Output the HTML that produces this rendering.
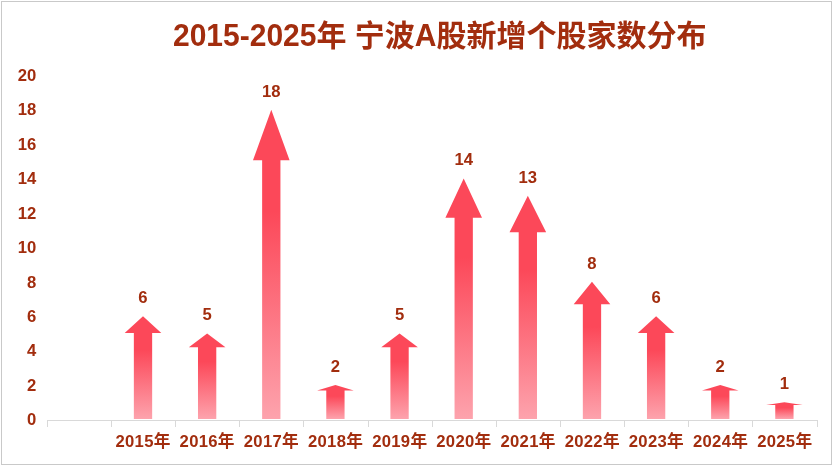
<!DOCTYPE html>
<html lang="zh"><head><meta charset="utf-8"><title>2015-2025年 宁波A股新增个股家数分布</title>
<style>
html,body{margin:0;padding:0;background:#fff;}
body{width:832px;height:465px;overflow:hidden;position:relative;}
#frame{position:absolute;left:1px;top:1px;width:831px;height:464px;box-sizing:border-box;border:1px solid #c9c9c9;}
svg{position:absolute;left:0;top:0;}
.t,.l{position:absolute;white-space:nowrap;font-family:"Liberation Sans","Noto Sans CJK SC",sans-serif;font-weight:bold;color:#A22D0E;}
.t{font-size:30px;line-height:40px;height:40px;}
.l{font-size:16.67px;line-height:20px;height:20px;width:80px;text-align:center;}
.y{text-align:right;}
.c{letter-spacing:0.3px;}
.s{display:inline-block;transform:scaleY(1.07);transform-origin:50% 30.4px;}
</style></head><body>
<div id="frame"></div>
<svg width="832" height="465" viewBox="0 0 832 465">
<defs><linearGradient id="g" x1="0" y1="0" x2="0" y2="1"><stop offset="0" stop-color="#FC4859"/><stop offset="0.33" stop-color="#FC4859"/><stop offset="1" stop-color="#FDA3AD"/></linearGradient></defs>
<g fill="#d9d9d9" shape-rendering="crispEdges"><rect x="47" y="420" width="771" height="1"/><rect x="47" y="420" width="1" height="7"/><rect x="111" y="420" width="1" height="7"/><rect x="175" y="420" width="1" height="7"/><rect x="239" y="420" width="1" height="7"/><rect x="303" y="420" width="1" height="7"/><rect x="368" y="420" width="1" height="7"/><rect x="432" y="420" width="1" height="7"/><rect x="496" y="420" width="1" height="7"/><rect x="560" y="420" width="1" height="7"/><rect x="624" y="420" width="1" height="7"/><rect x="688" y="420" width="1" height="7"/><rect x="752" y="420" width="1" height="7"/><rect x="817" y="420" width="1" height="7"/></g>
<polygon fill="url(#g)" points="143.00,316.20 161.30,332.96 152.15,332.96 152.15,419.00 133.85,419.00 133.85,332.96 124.70,332.96"/>
<polygon fill="url(#g)" points="207.14,333.40 225.44,347.35 216.29,347.35 216.29,419.00 197.99,419.00 197.99,347.35 188.84,347.35"/>
<polygon fill="url(#g)" points="271.28,109.80 289.58,160.20 280.43,160.20 280.43,419.00 262.13,419.00 262.13,160.20 252.98,160.20"/>
<polygon fill="url(#g)" points="335.42,385.00 353.72,390.54 344.57,390.54 344.57,419.00 326.27,419.00 326.27,390.54 317.12,390.54"/>
<polygon fill="url(#g)" points="399.56,333.40 417.86,347.35 408.71,347.35 408.71,419.00 390.41,419.00 390.41,347.35 381.26,347.35"/>
<polygon fill="url(#g)" points="463.70,178.60 482.00,217.79 472.85,217.79 472.85,419.00 454.55,419.00 454.55,217.79 445.40,217.79"/>
<polygon fill="url(#g)" points="527.84,195.80 546.14,232.18 536.99,232.18 536.99,419.00 518.69,419.00 518.69,232.18 509.54,232.18"/>
<polygon fill="url(#g)" points="591.98,281.80 610.28,304.16 601.13,304.16 601.13,419.00 582.83,419.00 582.83,304.16 573.68,304.16"/>
<polygon fill="url(#g)" points="656.12,316.20 674.42,332.96 665.27,332.96 665.27,419.00 646.97,419.00 646.97,332.96 637.82,332.96"/>
<polygon fill="url(#g)" points="720.26,385.00 738.56,390.54 729.41,390.54 729.41,419.00 711.11,419.00 711.11,390.54 701.96,390.54"/>
<polygon fill="url(#g)" points="784.40,402.20 802.70,404.94 793.55,404.94 793.55,419.00 775.25,419.00 775.25,404.94 766.10,404.94"/>
</svg>
<div class="t" style="left:173px;top:16px"><span class="s">2015-2025</span>年 宁波<span class="s">A</span>股新增个股家数分布</div>
<div class="l y" style="left:-43.70px;top:410px">0</div>
<div class="l y" style="left:-43.70px;top:376px">2</div>
<div class="l y" style="left:-43.70px;top:341px">4</div>
<div class="l y" style="left:-43.70px;top:307px">6</div>
<div class="l y" style="left:-43.70px;top:273px">8</div>
<div class="l y" style="left:-43.70px;top:238px">10</div>
<div class="l y" style="left:-43.70px;top:204px">12</div>
<div class="l y" style="left:-43.70px;top:169px">14</div>
<div class="l y" style="left:-43.70px;top:135px">16</div>
<div class="l y" style="left:-43.70px;top:100px">18</div>
<div class="l y" style="left:-43.70px;top:66px">20</div>
<div class="l" style="left:103.00px;top:288px">6</div>
<div class="l c" style="left:103.06px;top:432px">2015年</div>
<div class="l" style="left:167.14px;top:305px">5</div>
<div class="l c" style="left:167.23px;top:432px">2016年</div>
<div class="l" style="left:231.28px;top:82px">18</div>
<div class="l c" style="left:231.40px;top:432px">2017年</div>
<div class="l" style="left:295.42px;top:357px">2</div>
<div class="l c" style="left:295.56px;top:432px">2018年</div>
<div class="l" style="left:359.56px;top:305px">5</div>
<div class="l c" style="left:359.74px;top:432px">2019年</div>
<div class="l" style="left:423.70px;top:150px">14</div>
<div class="l c" style="left:423.91px;top:432px">2020年</div>
<div class="l" style="left:487.84px;top:168px">13</div>
<div class="l c" style="left:488.08px;top:432px">2021年</div>
<div class="l" style="left:551.98px;top:254px">8</div>
<div class="l c" style="left:552.25px;top:432px">2022年</div>
<div class="l" style="left:616.12px;top:288px">6</div>
<div class="l c" style="left:616.41px;top:432px">2023年</div>
<div class="l" style="left:680.26px;top:357px">2</div>
<div class="l c" style="left:680.58px;top:432px">2024年</div>
<div class="l" style="left:744.40px;top:374px">1</div>
<div class="l c" style="left:744.75px;top:432px">2025年</div>
</body></html>
